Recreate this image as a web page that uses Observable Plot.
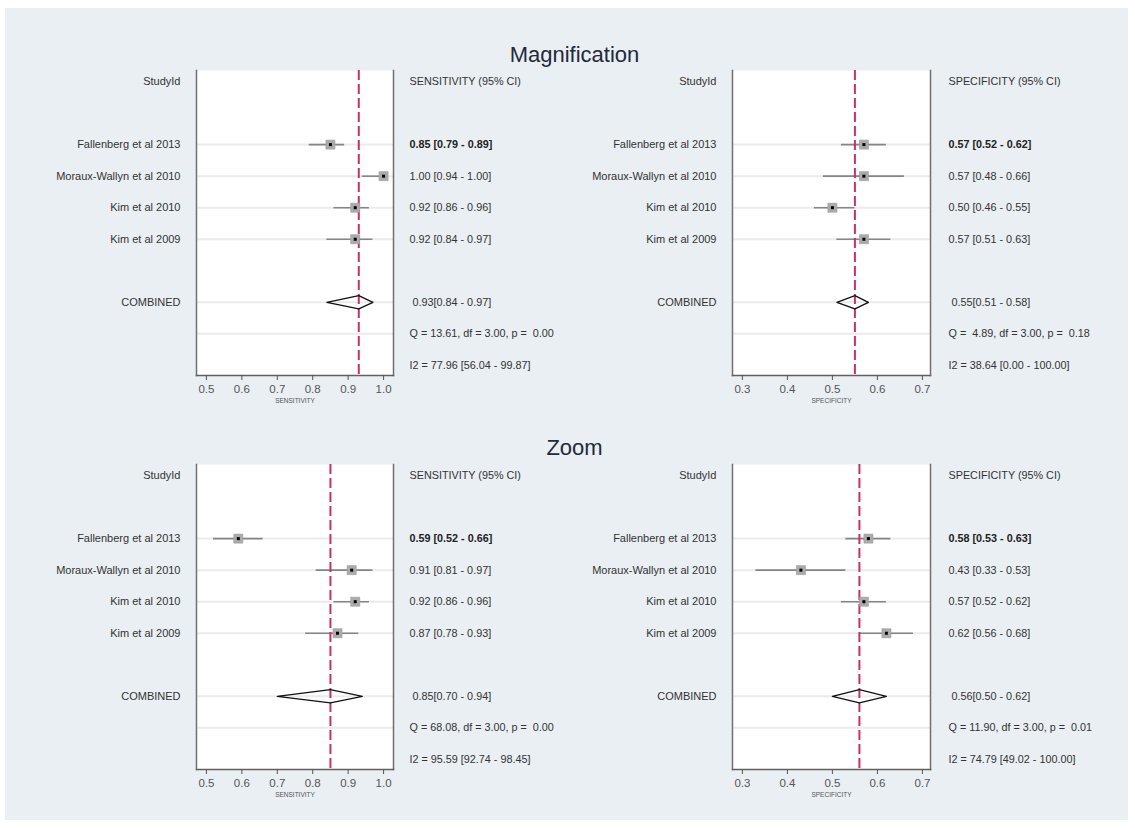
<!DOCTYPE html>
<html><head><meta charset="utf-8">
<script src="https://cdn.jsdelivr.net/npm/d3@7"></script>
<script src="https://cdn.jsdelivr.net/npm/@observablehq/plot@0.6"></script>
<style>
body{margin:0;background:#fff;font-family:"Liberation Sans",Arial,sans-serif;}
#page{position:relative;width:1135px;height:828px;overflow:hidden;}
#bg{position:absolute;left:5px;top:8px;width:1123px;height:812px;background:#e9eff2;}
.title{position:absolute;left:7px;width:1135px;text-align:center;font-size:22px;color:#1f2a3c;line-height:26px;}
.panel{position:absolute;}
.panel svg text{white-space:pre;}
</style></head><body>
<div id="page"><div id="bg"></div>
<div class="title" style="top:42px">Magnification</div>
<div class="title" style="top:435px">Zoom</div>
<div class="panel" id="p1" style="left:0;top:62px;width:567px"></div>
<div class="panel" id="p2" style="left:567px;top:62px;width:568px"></div>
<div class="panel" id="p3" style="left:0;top:456px;width:567px"></div>
<div class="panel" id="p4" style="left:567px;top:456px;width:568px"></div>
</div>
<script>
const studies = ["Fallenberg et al 2013", "Moraux-Wallyn et al 2010", "Kim et al 2010", "Kim et al 2009"];
const rowLayout = ["header", "gap1", ...studies, "gap2", "COMBINED", "Q", "I2"];

const sensTicks = [0.5, 0.6, 0.7, 0.8, 0.9, 1.0];
const specTicks = [0.3, 0.4, 0.5, 0.6, 0.7];
const sensDomain = [0.472, 1.028];
const specDomain = [0.278, 0.718];

// Magnification — sensitivity
const magSensEst = [0.85, 1.00, 0.92, 0.92];
const magSensLo  = [0.79, 0.94, 0.86, 0.84];
const magSensHi  = [0.89, 1.00, 0.96, 0.97];
const magSensComb = [0.93, 0.84, 0.97];
const magSensQ = [13.61, 3.00, 0.00];
const magSensI2 = [77.96, 56.04, 99.87];

// Magnification — specificity
const magSpecEst = [0.57, 0.57, 0.50, 0.57];
const magSpecLo  = [0.52, 0.48, 0.46, 0.51];
const magSpecHi  = [0.62, 0.66, 0.55, 0.63];
const magSpecComb = [0.55, 0.51, 0.58];
const magSpecQ = [4.89, 3.00, 0.18];
const magSpecI2 = [38.64, 0.00, 100.00];

// Zoom — sensitivity
const zoomSensEst = [0.59, 0.91, 0.92, 0.87];
const zoomSensLo  = [0.52, 0.81, 0.86, 0.78];
const zoomSensHi  = [0.66, 0.97, 0.96, 0.93];
const zoomSensComb = [0.85, 0.70, 0.94];
const zoomSensQ = [68.08, 3.00, 0.00];
const zoomSensI2 = [95.59, 92.74, 98.45];

// Zoom — specificity
const zoomSpecEst = [0.58, 0.43, 0.57, 0.62];
const zoomSpecLo  = [0.53, 0.33, 0.52, 0.56];
const zoomSpecHi  = [0.63, 0.53, 0.62, 0.68];
const zoomSpecComb = [0.56, 0.50, 0.62];
const zoomSpecQ = [11.90, 3.00, 0.01];
const zoomSpecI2 = [74.79, 49.02, 100.00];

const f2 = d3.format(".2f");
const f5 = d3.format("5.2f");
const FONT = "'Liberation Sans', Arial, sans-serif";
const TXT = "#333";

function panel(el, o) {
  const rowOf = k => rowLayout.indexOf(k);
  const data = studies.map((s, i) => ({
    study: s, row: rowOf(s), est: o.est[i], lo: o.lo[i], hi: o.hi[i],
    text: `${f2(o.est[i])} [${f2(o.lo[i])} - ${f2(o.hi[i])}]`, first: i === 0
  }));
  const rc = rowOf("COMBINED");
  const [ce, cl, ch] = o.comb;
  const hh = 0.21;
  const diamond = [
    {x: cl, y: rc}, {x: ce, y: rc - hh}, {x: ch, y: rc}, {x: ce, y: rc + hh}, {x: cl, y: rc}
  ];
  const leftLabels = [
    {row: rowOf("header"), text: "StudyId"},
    ...data.map(d => ({row: d.row, text: d.study})),
    {row: rc, text: "COMBINED"}
  ];
  const rightLabels = [
    {row: rowOf("header"), text: o.header},
    ...data.filter(d => !d.first).map(d => ({row: d.row, text: d.text})),
    {row: rc, text: ` ${f2(ce)}[${f2(cl)} - ${f2(ch)}]`},
    {row: rowOf("Q"), text: `Q = ${f5(o.q[0])}, df = ${f2(o.q[1])}, p = ${f5(o.q[2])}`},
    {row: rowOf("I2"), text: `I2 = ${f2(o.i2[0])} [${f2(o.i2[1])} - ${f2(o.i2[2])}]`}
  ];
  const boldLabels = data.filter(d => d.first).map(d => ({row: d.row, text: d.text}));
  const gridRows = [...studies, "COMBINED", "Q"].map(rowOf);

  const chart = Plot.plot({
    width: o.width, height: 348,
    marginLeft: o.marginLeft, marginRight: o.marginRight, marginTop: 8, marginBottom: 35,
    style: {background: "none", fontFamily: FONT, overflow: "visible"},
    x: {domain: o.domain},
    y: {domain: [-0.35, rowLayout.length - 1 + 0.32], reverse: true, axis: null},
    marks: [
      Plot.frame({fill: "white", stroke: null}),
      Plot.ruleY(gridRows, {stroke: "#ebebeb", strokeWidth: 2}),
      Plot.ruleY(data, {y: "row", x1: "lo", x2: "hi", stroke: "#858585", strokeWidth: 1.6}),
      Plot.ruleX([ce], {stroke: "#c8306a", strokeWidth: 2, strokeDasharray: "10,4"}),
      Plot.dot(data, {x: "est", y: "row", symbol: "square", r: 5.1, fill: "#ababab", stroke: "#9a9a9a", strokeWidth: 0.6}),
      Plot.dot(data, {x: "est", y: "row", symbol: "square", r: 1.7, fill: "black"}),
      Plot.line(diamond, {x: "x", y: "y", stroke: "#111", strokeWidth: 1.3}),
      Plot.frame({anchor: "left", stroke: "#707070", strokeWidth: 1.5}),
      Plot.frame({anchor: "right", stroke: "#707070", strokeWidth: 1.5}),
      Plot.frame({anchor: "bottom", stroke: "#606060", strokeWidth: 1.5}),
      Plot.axisX({ticks: o.ticks, tickFormat: d3.format(".1f"), tickSize: 5, tickPadding: 4, fontSize: 11.5, color: "#555", label: null}),
      Plot.text([o.axisLabel], {frameAnchor: "bottom", dy: 27, fontSize: 6.5, fill: "#555"}),
      Plot.text(leftLabels, {y: "row", text: "text", frameAnchor: "left", textAnchor: "end", dx: -16, fontSize: 11, fill: TXT}),
      Plot.text(rightLabels, {y: "row", text: "text", frameAnchor: "right", textAnchor: "start", dx: o.dxRight, fontSize: 10.8, fill: TXT}),
      Plot.text(boldLabels, {y: "row", text: "text", frameAnchor: "right", textAnchor: "start", dx: o.dxRight, fontSize: 10.8, fill: "#222", fontWeight: "bold"})
    ]
  });
  document.getElementById(el).appendChild(chart);
}

const sensCfg = {domain: sensDomain, ticks: sensTicks, header: "SENSITIVITY (95% CI)", axisLabel: "SENSITIVITY", width: 567, marginLeft: 196, marginRight: 174, dxRight: 16};
const specCfg = {domain: specDomain, ticks: specTicks, header: "SPECIFICITY (95% CI)", axisLabel: "SPECIFICITY", width: 568, marginLeft: 165, marginRight: 205, dxRight: 18};

panel("p1", {...sensCfg, est: magSensEst, lo: magSensLo, hi: magSensHi, comb: magSensComb, q: magSensQ, i2: magSensI2});
panel("p2", {...specCfg, est: magSpecEst, lo: magSpecLo, hi: magSpecHi, comb: magSpecComb, q: magSpecQ, i2: magSpecI2});
panel("p3", {...sensCfg, est: zoomSensEst, lo: zoomSensLo, hi: zoomSensHi, comb: zoomSensComb, q: zoomSensQ, i2: zoomSensI2});
panel("p4", {...specCfg, est: zoomSpecEst, lo: zoomSpecLo, hi: zoomSpecHi, comb: zoomSpecComb, q: zoomSpecQ, i2: zoomSpecI2});
</script>
</body></html>
